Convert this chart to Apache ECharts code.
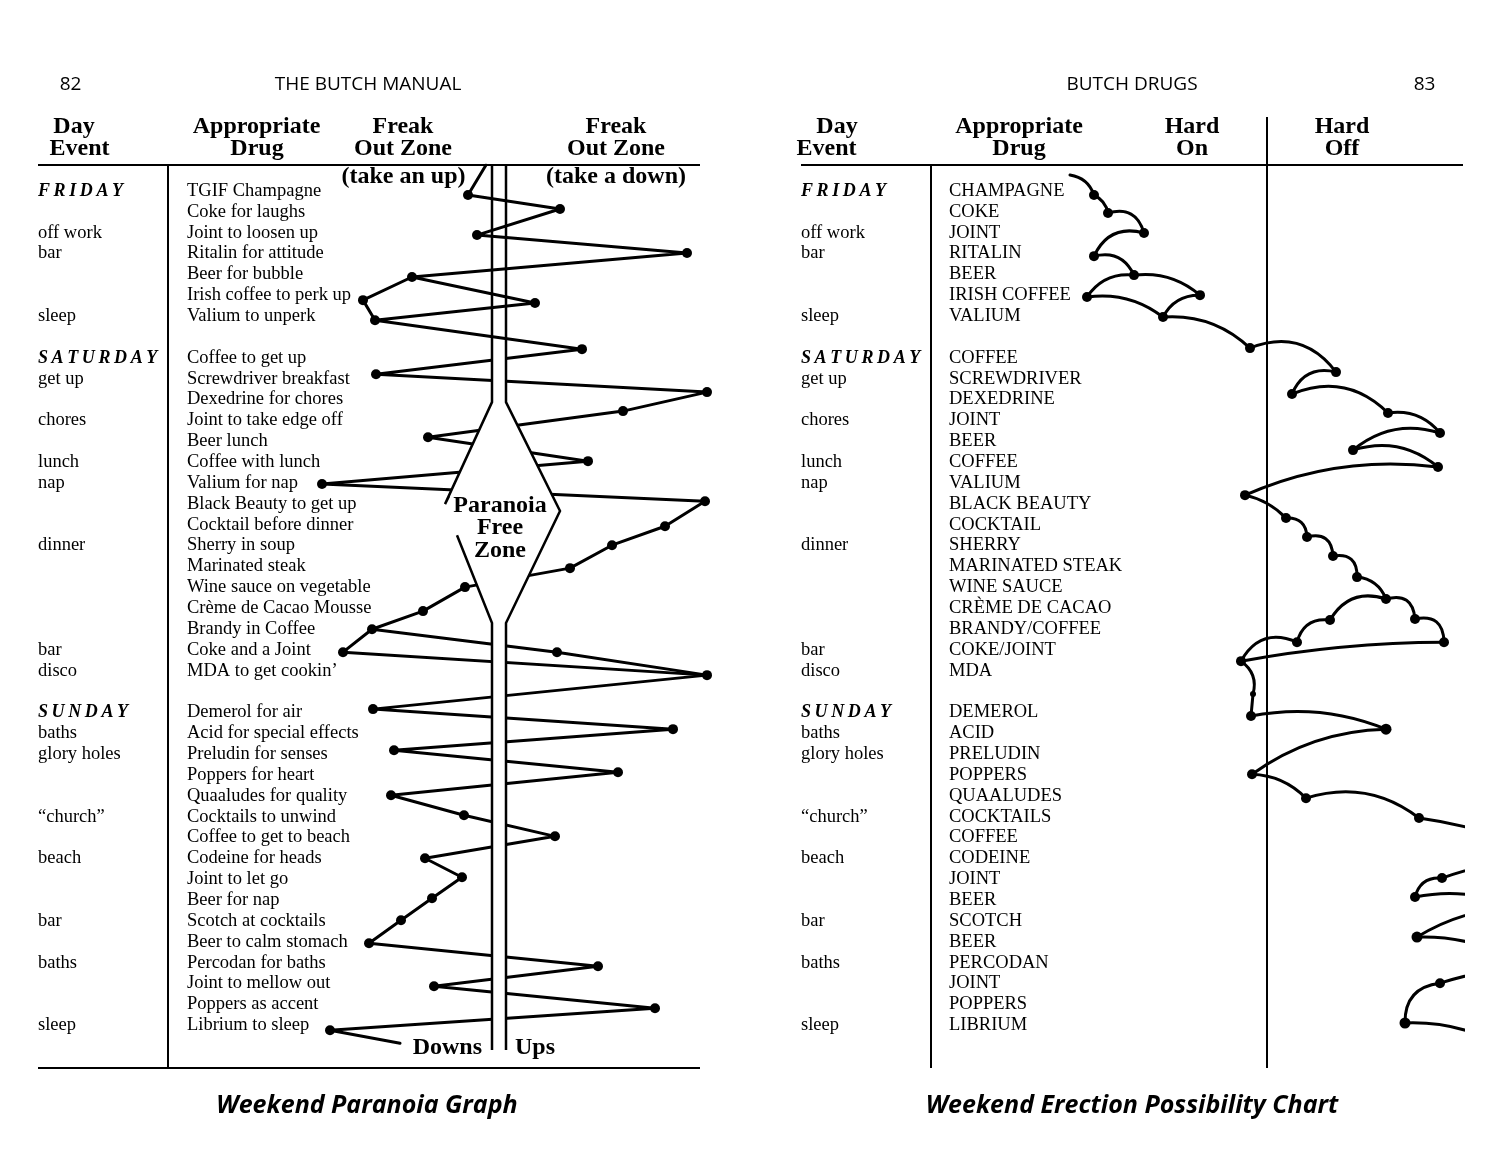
<!DOCTYPE html>
<html>
<head>
<meta charset="utf-8">
<script src="https://cdn.jsdelivr.net/npm/echarts@6/dist/echarts.min.js"></script>
<style>html,body{margin:0;padding:0;background:#fff}#chart{width:1500px;height:1171px}</style>
</head>
<body>
<div id="chart"></div>
<script>
// ================= DATA =================
// Row index = line of the table (0 = FRIDAY line ... 40 = last "sleep" line)
const dayHeads = [[0, 'FRIDAY'], [8, 'SATURDAY'], [25, 'SUNDAY']];
const dayEvents = [[2, 'off work'], [3, 'bar'], [6, 'sleep'], [9, 'get up'], [11, 'chores'], [13, 'lunch'],
  [14, 'nap'], [17, 'dinner'], [22, 'bar'], [23, 'disco'], [26, 'baths'], [27, 'glory holes'],
  [30, '“church”'], [32, 'beach'], [35, 'bar'], [37, 'baths'], [40, 'sleep']];

const paranoiaDrugs = ['TGIF Champagne', 'Coke for laughs', 'Joint to loosen up', 'Ritalin for attitude',
  'Beer for bubble', 'Irish coffee to perk up', 'Valium to unperk', '',
  'Coffee to get up', 'Screwdriver breakfast', 'Dexedrine for chores', 'Joint to take edge off', 'Beer lunch',
  'Coffee with lunch', 'Valium for nap', 'Black Beauty to get up', 'Cocktail before dinner', 'Sherry in soup',
  'Marinated steak', 'Wine sauce on vegetable', 'Crème de Cacao Mousse', 'Brandy in Coffee', 'Coke and a Joint',
  'MDA to get cookin’', '',
  'Demerol for air', 'Acid for special effects', 'Preludin for senses', 'Poppers for heart', 'Quaaludes for quality',
  'Cocktails to unwind', 'Coffee to get to beach', 'Codeine for heads', 'Joint to let go', 'Beer for nap',
  'Scotch at cocktails', 'Beer to calm stomach', 'Percodan for baths', 'Joint to mellow out', 'Poppers as accent',
  'Librium to sleep'];

const erectionDrugs = ['CHAMPAGNE', 'COKE', 'JOINT', 'RITALIN', 'BEER', 'IRISH COFFEE', 'VALIUM', '',
  'COFFEE', 'SCREWDRIVER', 'DEXEDRINE', 'JOINT', 'BEER', 'COFFEE', 'VALIUM', 'BLACK BEAUTY', 'COCKTAIL', 'SHERRY',
  'MARINATED STEAK', 'WINE SAUCE', 'CRÈME DE CACAO', 'BRANDY/COFFEE', 'COKE/JOINT', 'MDA', '',
  'DEMEROL', 'ACID', 'PRELUDIN', 'POPPERS', 'QUAALUDES', 'COCKTAILS', 'COFFEE', 'CODEINE', 'JOINT', 'BEER',
  'SCOTCH', 'BEER', 'PERCODAN', 'JOINT', 'POPPERS', 'LIBRIUM'];

// Paranoia graph: [paranoia level (neg = downs, pos = ups), row]
const paranoiaMain = [[-1.2, -1.25], [-3.0, 0.19], [6.2, 0.86], [-2.1, 2.11], [18.9, 2.97], [-8.6, 4.12],
  [3.7, 5.37], [-12.3, 6.19], [8.4, 7.58], [-12.2, 8.78], [20.9, 9.64], [12.5, 10.55], [-7.0, 11.80],
  [9.0, 12.95], [-17.6, 14.05], [20.7, 14.87], [16.7, 16.07], [11.4, 16.98], [7.2, 18.08], [-3.3, 18.99],
  [-7.5, 20.14], [-12.6, 21.01], [5.9, 22.11], [20.9, 23.21], [-12.5, 24.84], [17.5, 25.80], [-10.4, 26.81],
  [12.0, 27.87], [-10.7, 28.97], [-3.4, 29.93], [5.7, 30.94], [-7.3, 31.99], [-3.6, 32.90], [-6.6, 33.91],
  [-9.7, 34.96], [-12.9, 36.07], [10.0, 37.17], [-6.4, 38.13], [15.7, 39.18], [-16.8, 40.24], [-9.8, 40.86]];
const paranoiaBranchFriday = [[-8.6, 4.12], [-13.5, 5.23], [-12.3, 6.19]];
const paranoiaBranchSaturday = [[-12.6, 21.01], [-15.5, 22.11], [20.9, 23.21]];

// Paranoia-free zone outline: [level, row]
const zoneFill = [[-0.6, 7.5], [0.8, 7.5], [0.8, 10.12], [6.2, 15.34], [0.8, 20.71], [0.8, 41.19],
  [-0.6, 41.19], [-0.6, 20.71], [-5.3, 15.01], [-0.6, 10.12]];
const zoneWallLeftUpper = [[-0.6, -1.25], [-0.6, 10.12], [-5.3, 15.01], [-4.9, 14.63]];
const zoneWallLeftLower = [[-4.1, 16.5], [-0.6, 20.71], [-0.6, 41.19]];
const zoneWallRight = [[0.8, -1.25], [0.8, 10.12], [6.2, 15.34], [0.8, 20.71], [0.8, 41.19]];

// Erection chart nodes: [hard-off level (neg = hard on), row, dot size]
const erectionNodes = [
  [-19.7, -0.77, 0], [-17.3, 0.19, 10], [-15.9, 1.05, 10], [-12.3, 2.01, 10], [-17.3, 3.12, 10],
  [-13.3, 4.03, 10], [-18.0, 5.08, 10], [-6.7, 4.99, 10], [-10.4, 6.04, 10], [-1.7, 7.53, 10],
  [6.9, 8.68, 10], [2.5, 9.73, 10], [12.1, 10.64, 10], [17.3, 11.60, 10], [8.6, 12.42, 10],
  [17.1, 13.23, 10], [-2.2, 14.58, 10], [1.9, 15.68, 10], [4.0, 16.59, 10], [6.6, 17.50, 10],
  [9.0, 18.51, 10], [11.9, 19.56, 10], [14.8, 20.52, 10], [6.3, 20.57, 10], [17.7, 21.63, 10],
  [3.0, 21.63, 10], [-2.6, 22.54, 10], [-1.4, 24.12, 6], [-1.6, 25.17, 10], [11.9, 25.80, 11],
  [-1.5, 27.96, 10], [3.9, 29.11, 10], [15.2, 30.06, 10], [24.3, 31.12, 0], [17.5, 32.94, 10],
  [24.3, 32.13, 0], [14.8, 33.85, 10], [24.3, 34.24, 0], [15.0, 35.77, 11], [23.8, 34.38, 0],
  [23.8, 36.63, 0], [17.3, 37.98, 10], [24.3, 37.26, 0], [13.8, 39.89, 11], [24.3, 41.19, 0]];
// Arcs: [from node, to node, curveness]
const erectionArcs = [
  [0, 1, 0.3], [1, 2, 0.25], [2, 3, 0.5], [3, 4, -0.42], [4, 5, 0.41], [5, 6, -0.3], [5, 7, 0.22],
  [6, 8, 0.21], [7, 8, -0.31], [8, 9, 0.22], [9, 10, 0.38], [10, 11, -0.42], [11, 12, 0.33],
  [12, 13, 0.28], [13, 14, -0.27], [14, 15, 0.27], [15, 16, -0.14], [16, 17, 0.15], [17, 18, 0.5],
  [18, 19, 0.6], [19, 20, 0.6], [20, 21, 0.3], [21, 22, 0.6], [22, 24, 0.6], [21, 23, -0.4],
  [23, 25, -0.43], [25, 26, -0.45], [24, 26, -0.045], [26, 27, 0.35], [27, 28, 0], [28, 29, 0.15],
  [29, 30, -0.155], [30, 31, 0.2], [31, 32, 0.26], [32, 33, 0.05], [36, 34, 0.42], [34, 35, 0.05],
  [36, 37, 0.15], [38, 39, 0.12], [38, 40, 0.12], [43, 41, 0.45], [41, 42, 0.05], [43, 44, 0.15]];

// ================= OPTION =================
const SERIF = '"Liberation Serif", "Times New Roman", serif';
const bodyFont = '18.5px ' + SERIF;
const dayFont = 'bold italic 18px ' + SERIF;
const hdrFont = 'bold 24px ' + SERIF;
const sansFont = '19px "Open Sans", "Noto Sans", sans-serif';
const titleFont = 'italic bold 25px "Open Sans", "Noto Sans", sans-serif';

const spaced = s => s.split('').join('\u2009');

function textStyle(text, x, y, font, align) {
  return { text, x, y, font, fill: '#000', textFill: '#000', align, verticalAlign: 'middle',
    textAlign: align, textVerticalAlign: 'middle' };
}

function textColumn(axisIdx, col, rows, font) {
  return {
    type: 'custom', xAxisIndex: axisIdx, yAxisIndex: axisIdx, clip: false, silent: true, z: 5,
    data: rows.map(r => [col, r[0]]),
    renderItem: (params, api) => {
      const p = api.coord([api.value(0), api.value(1)]);
      return { type: 'text', style: textStyle(rows[params.dataIndex][1], p[0], p[1], font, 'left') };
    }
  };
}

const drugRows = arr => arr.map((t, i) => [i, t]).filter(r => r[1] !== '');
const headRows = dayHeads.map(r => [r[0], spaced(r[1])]);

const gridTop = 165, gridHeight = 902;
const grids = [
  { left: 38, top: gridTop, width: 149, height: gridHeight },
  { left: 318, top: gridTop, width: 400, height: gridHeight },
  { left: 801, top: gridTop, width: 148, height: gridHeight },
  { left: 1062, top: gridTop, width: 401, height: gridHeight }
];
const colAxis = i => ({ type: 'category', gridIndex: i, data: ['Day Event', 'Appropriate Drug'], boundaryGap: false, show: false });
const rowAxis = i => ({ type: 'value', gridIndex: i, min: -1.25, max: 42, inverse: true, show: false });

const lineSt = { color: '#000', width: 3, opacity: 1, cap: 'round', join: 'round' };

function gtext(text, x, y, font, align) {
  return { type: 'text', x, y, silent: true, style: textStyle(text, 0, 0, font, align || 'center') };
}
function gline(x1, y1, x2, y2, w) {
  return { type: 'line', silent: true, shape: { x1, y1, x2, y2 }, style: { stroke: '#000', lineWidth: w || 2 } };
}

const option = {
  backgroundColor: '#fff',
  animation: false,
  grid: grids,
  xAxis: [colAxis(0), { type: 'value', gridIndex: 1, min: -18, max: 22, show: false },
    colAxis(2), { type: 'value', gridIndex: 3, min: -20.5, max: 19.6, show: false }],
  yAxis: [rowAxis(0), rowAxis(1), rowAxis(2), rowAxis(3)],
  graphic: [
    gtext('82', 70.5, 85, sansFont), gtext('THE BUTCH MANUAL', 368, 85, sansFont),
    gtext('BUTCH DRUGS', 1132, 85, sansFont), gtext('83', 1424.5, 85, sansFont),
    gtext('Day', 74, 127, hdrFont), gtext('Event', 79.5, 149, hdrFont),
    gtext('Appropriate', 256.5, 127, hdrFont), gtext('Drug', 257, 149, hdrFont),
    gtext('Freak', 403, 127, hdrFont), gtext('Out Zone', 403, 149, hdrFont),
    gtext('Freak', 616, 127, hdrFont), gtext('Out Zone', 616, 149, hdrFont),
    gtext('(take an up)', 403.5, 177, hdrFont), gtext('(take a down)', 616, 177, hdrFont),
    gtext('Day', 837, 127, hdrFont), gtext('Event', 826.5, 149, hdrFont),
    gtext('Appropriate', 1019, 127, hdrFont), gtext('Drug', 1019, 149, hdrFont),
    gtext('Hard', 1192, 127, hdrFont), gtext('On', 1192, 149, hdrFont),
    gtext('Hard', 1342, 127, hdrFont), gtext('Off', 1342, 149, hdrFont),
    gline(38, 165, 700, 165), gline(38, 1068, 700, 1068), gline(168, 165, 168, 1068),
    gline(801, 165, 1463, 165), gline(931, 165, 931, 1068), gline(1267, 117, 1267, 1068),
    gtext('Weekend Paranoia Graph', 367, 1106, titleFont),
    gtext('Weekend Erection Possibility Chart', 1132, 1106, titleFont)
  ],
  series: [
    textColumn(0, 0, headRows, dayFont),
    textColumn(0, 0, dayEvents, bodyFont),
    textColumn(0, 1, drugRows(paranoiaDrugs), bodyFont),
    textColumn(2, 0, headRows, dayFont),
    textColumn(2, 0, dayEvents, bodyFont),
    textColumn(2, 1, drugRows(erectionDrugs), bodyFont),
    {
      type: 'lines', coordinateSystem: 'cartesian2d', xAxisIndex: 1, yAxisIndex: 1, polyline: true,
      silent: true, z: 2, lineStyle: lineSt,
      data: [paranoiaMain, paranoiaBranchFriday, paranoiaBranchSaturday].map(c => ({ coords: c }))
    },
    {
      type: 'custom', xAxisIndex: 1, yAxisIndex: 1, clip: false, silent: true, z: 3, data: [[0, 0]],
      renderItem: (params, api) => {
        const c = pts => pts.map(p => api.coord(p));
        const wall = pts => ({ type: 'polyline', shape: { points: c(pts) },
          style: { fill: null, stroke: '#000', lineWidth: 2.5 } });
        const zc = api.coord([0.2, 16.16]);
        const dn = api.coord([-1.6, 41.09]);
        const up = api.coord([1.7, 41.09]);
        return { type: 'group', children: [
          { type: 'polygon', shape: { points: c(zoneFill) }, style: { fill: '#fff', stroke: null } },
          wall(zoneWallLeftUpper), wall(zoneWallLeftLower), wall(zoneWallRight),
          { type: 'text', style: Object.assign(textStyle('Paranoia\nFree\nZone', zc[0], zc[1], hdrFont, 'center'), { lineHeight: 22.5 }) },
          { type: 'text', style: textStyle('Downs', dn[0], dn[1], hdrFont, 'right') },
          { type: 'text', style: textStyle('Ups', up[0], up[1], hdrFont, 'left') }
        ] };
      }
    },
    {
      type: 'scatter', xAxisIndex: 1, yAxisIndex: 1, clip: false, silent: true, z: 4,
      symbol: 'circle', symbolSize: 10, itemStyle: { color: '#000', opacity: 1 },
      data: paranoiaMain.slice(1, -1).concat([paranoiaBranchFriday[1], paranoiaBranchSaturday[1]])
    },
    {
      type: 'lines', coordinateSystem: 'cartesian2d', xAxisIndex: 3, yAxisIndex: 3, clip: true,
      silent: true, z: 2, lineStyle: lineSt,
      data: erectionArcs.map(a => ({
        coords: [erectionNodes[a[0]].slice(0, 2), erectionNodes[a[1]].slice(0, 2)],
        lineStyle: { curveness: a[2] }
      }))
    },
    {
      type: 'scatter', xAxisIndex: 3, yAxisIndex: 3, clip: false, silent: true, z: 4,
      symbol: 'circle', symbolSize: v => v[2], itemStyle: { color: '#000', opacity: 1 },
      data: erectionNodes.filter(n => n[2] > 0)
    }
  ]
};

const chart = echarts.init(document.getElementById('chart'), null, { renderer: 'canvas' });
chart.setOption(option);
</script>
</body>
</html>
